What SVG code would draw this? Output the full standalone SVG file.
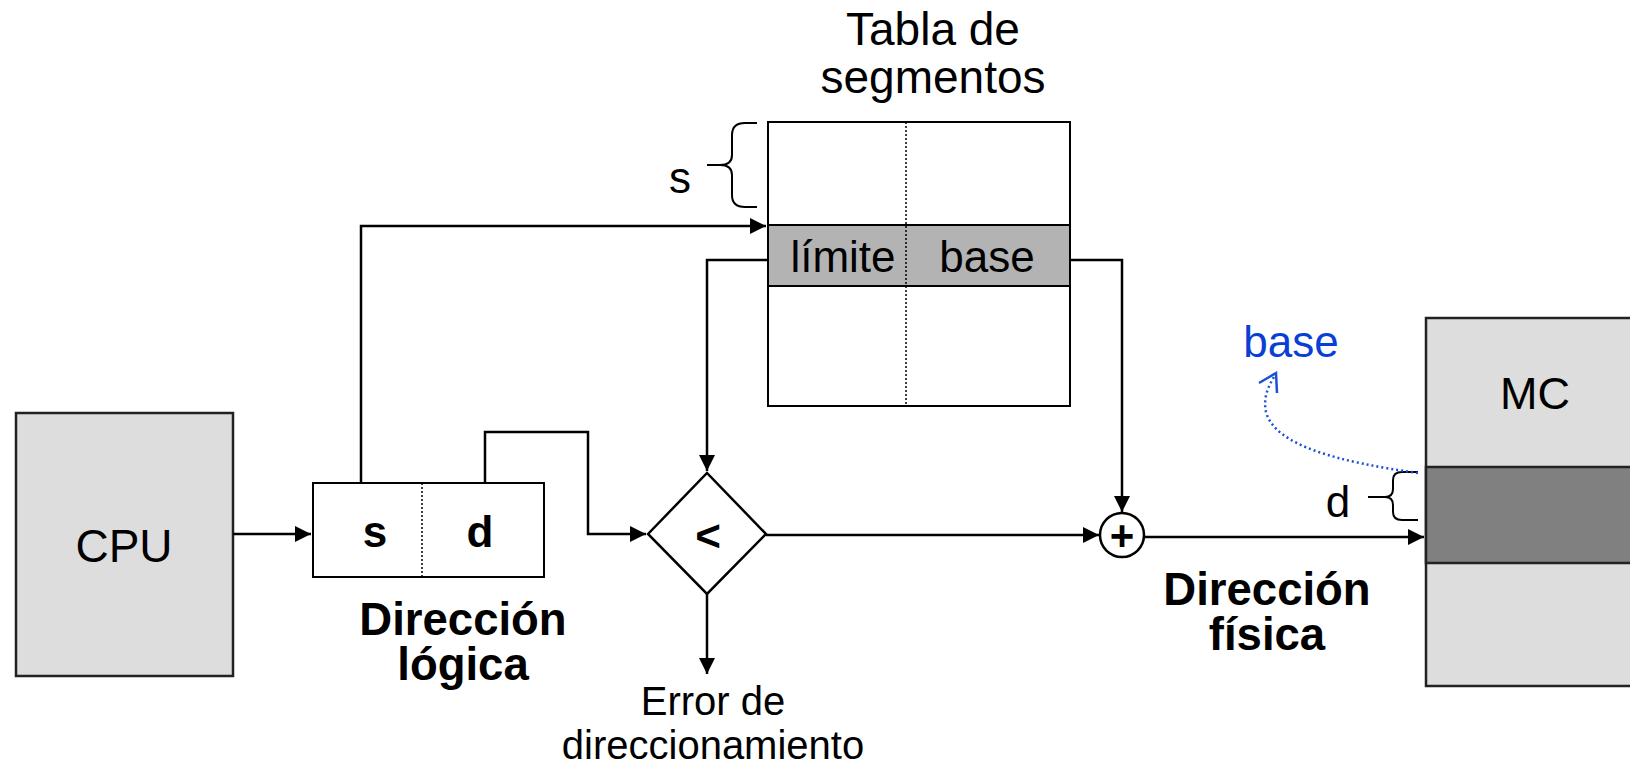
<svg xmlns="http://www.w3.org/2000/svg" width="1630" height="768" viewBox="0 0 1630 768">
<style>
text{font-family:"Liberation Sans",Arial,sans-serif;fill:#000;}
.c{text-anchor:middle;}
.b{font-weight:bold;}
.box{fill:#fff;stroke:#000;stroke-width:2;}
.gray{fill:#dddddd;stroke:#222;stroke-width:2.5;}
.ln{fill:none;stroke:#000;stroke-width:2.5;}
.dot{fill:none;stroke:#000;stroke-width:1.5;stroke-dasharray:2 2;}
.brace{fill:none;stroke:#000;stroke-width:2;}
</style>
<defs>
<marker id="ah" markerUnits="userSpaceOnUse" markerWidth="18" markerHeight="16" refX="16" refY="8" orient="auto">
<path d="M0,0 L16,8 L0,16 Z" fill="#000"/>
</marker>
</defs>
<rect width="1630" height="768" fill="#fff"/>

<g id="cpu">
<rect class="gray" x="16" y="413" width="217" height="263"/>
<text class="c" x="124" y="562" font-size="46">CPU</text>
</g>

<g id="direccion-logica">
<rect class="box" x="313" y="483" width="231" height="94" stroke-width="2.5"/>
<line class="dot" x1="422" y1="483" x2="422" y2="577"/>
<text class="c b" x="375" y="547" font-size="44">s</text>
<text class="c b" x="480" y="547" font-size="44">d</text>
<text class="c b" x="463" y="635" font-size="45.5">Dirección</text>
<text class="c b" x="463" y="680" font-size="45.5">lógica</text>
</g>

<g id="tabla">
<text class="c" x="933" y="45" font-size="46">Tabla de</text>
<text class="c" x="933" y="93" font-size="46">segmentos</text>
<rect class="box" x="768" y="122" width="302" height="284"/>
<rect x="768" y="225" width="302" height="61" fill="#b3b3b3" stroke="#000" stroke-width="2"/>
<line class="dot" x1="906" y1="122" x2="906" y2="406"/>
<text class="c" x="843" y="272" font-size="44">límite</text>
<text class="c" x="987" y="272" font-size="44">base</text>
<text class="c" x="680" y="193" font-size="44">s</text>
<path class="brace" d="M757,123 L745,123 Q732,123 732,135 L732,155 Q732,165 720,165 L707,165 M720,165 Q732,165 732,175 L732,195 Q732,207 745,207 L757,207"/>
</g>

<g id="comparador">
<polygon points="648,534 707,473 766,534 707,594" fill="#fff" stroke="#000" stroke-width="2.5"/>
<text class="c b" x="708" y="551" font-size="44">&lt;</text>
<text class="c" x="713" y="715" font-size="40">Error de</text>
<text class="c" x="713" y="759" font-size="40">direccionamiento</text>
</g>

<g id="sumador">
<circle cx="1122" cy="535" r="22" fill="#fff" stroke="#000" stroke-width="2.5"/>
<text class="c b" x="1122" y="550" font-size="42">+</text>
<text class="c b" x="1267" y="605" font-size="45.5">Dirección</text>
<text class="c b" x="1267" y="650" font-size="45.5">física</text>
</g>

<g id="mc">
<rect class="gray" x="1426" y="318" width="220" height="368"/>
<rect x="1426" y="467" width="220" height="96" fill="#808080" stroke="#222" stroke-width="2.5"/>
<text class="c" x="1535" y="409" font-size="45">MC</text>
<text class="c" x="1338" y="517" font-size="44">d</text>
<path class="brace" d="M1418,472 L1402,472 Q1393,472 1393,480 L1393,489 Q1393,497 1385,497 L1368,497 M1385,497 Q1393,497 1393,505 L1393,512 Q1393,520 1402,520 L1418,520"/>
<text class="c" x="1291" y="357" font-size="44" style="fill:#0a3fd6">base</text>
<path d="M1418,473 C1340,462 1275,446 1266,412 C1263,398 1268,386 1276,374" fill="none" stroke="#1a4fd6" stroke-width="2.5" stroke-dasharray="2 3"/>
<path d="M1259,383 L1276,373 L1277,393" fill="none" stroke="#1a4fd6" stroke-width="2.5"/>
</g>

<g id="connectors">
<path class="ln" d="M233,534 L311,534" marker-end="url(#ah)"/>
<path class="ln" d="M361,483 L361,226 L766,226" marker-end="url(#ah)"/>
<path class="ln" d="M485,483 L485,432 L588,432 L588,534 L646,534" marker-end="url(#ah)"/>
<path class="ln" d="M768,260 L707,260 L707,471" marker-end="url(#ah)"/>
<path class="ln" d="M1070,260 L1122,260 L1122,512" marker-end="url(#ah)"/>
<path class="ln" d="M766,535 L1099,535" marker-end="url(#ah)"/>
<path class="ln" d="M707,594 L707,674" marker-end="url(#ah)"/>
<path class="ln" d="M1144,537 L1424,537" marker-end="url(#ah)"/>
</g>
</svg>
